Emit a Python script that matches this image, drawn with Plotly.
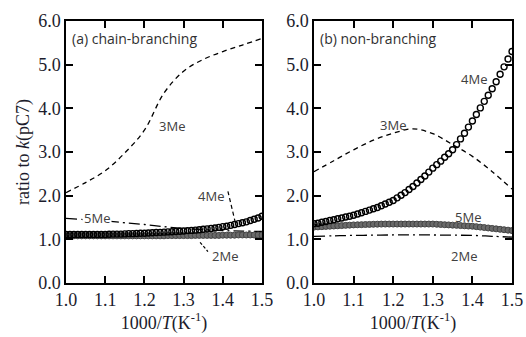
import plotly.graph_objects as go

# ---------------- data ----------------
x_line = [1.00, 1.05, 1.10, 1.15, 1.20, 1.25, 1.30, 1.35, 1.40, 1.45, 1.50]
x_dense = [1.00, 1.01, 1.02, 1.03, 1.04, 1.05, 1.06, 1.07, 1.08, 1.09,
           1.10, 1.11, 1.12, 1.13, 1.14, 1.15, 1.16, 1.17, 1.18, 1.19,
           1.20, 1.21, 1.22, 1.23, 1.24, 1.25, 1.26, 1.27, 1.28, 1.29,
           1.30, 1.31, 1.32, 1.33, 1.34, 1.35, 1.36, 1.37, 1.38, 1.39,
           1.40, 1.41, 1.42, 1.43, 1.44, 1.45, 1.46, 1.47, 1.48, 1.49, 1.50]

# (a) chain-branching
a_3me = [2.07, 2.30, 2.57, 2.98, 3.50, 4.35, 4.85, 5.12, 5.30, 5.45, 5.60]
a_5me = [1.48, 1.45, 1.42, 1.38, 1.34, 1.29, 1.25, 1.22, 1.20, 1.19, 1.18]
a_4me = [1.11, 1.11, 1.11, 1.11, 1.11, 1.11, 1.11, 1.11, 1.11, 1.11,
         1.11, 1.115, 1.12, 1.12, 1.12, 1.125, 1.13, 1.13, 1.135, 1.14,
         1.14, 1.145, 1.15, 1.155, 1.16, 1.165, 1.17, 1.175, 1.18, 1.185,
         1.19, 1.20, 1.205, 1.21, 1.22, 1.23, 1.24, 1.25, 1.26, 1.275,
         1.29, 1.30, 1.32, 1.34, 1.36, 1.38, 1.40, 1.43, 1.46, 1.49, 1.53]
a_2me = [1.08, 1.08, 1.08, 1.08, 1.08, 1.08, 1.08, 1.08, 1.08, 1.08,
         1.08, 1.08, 1.08, 1.08, 1.08, 1.08, 1.08, 1.08, 1.08, 1.08,
         1.08, 1.08, 1.08, 1.08, 1.08, 1.08, 1.085, 1.085, 1.085, 1.085,
         1.085, 1.085, 1.085, 1.09, 1.09, 1.09, 1.09, 1.09, 1.09, 1.09,
         1.095, 1.095, 1.095, 1.095, 1.10, 1.10, 1.10, 1.10, 1.10, 1.10, 1.10]

# (b) non-branching
b_3me = [2.55, 2.80, 3.05, 3.27, 3.43, 3.53, 3.42, 3.17, 2.90, 2.55, 2.15]
b_2me = [1.07, 1.08, 1.09, 1.095, 1.10, 1.10, 1.10, 1.095, 1.09, 1.07, 1.05]
b_4me = [1.36, 1.37, 1.39, 1.41, 1.43, 1.45, 1.47, 1.49, 1.51, 1.53,
         1.55, 1.58, 1.61, 1.64, 1.67, 1.70, 1.73, 1.77, 1.81, 1.85,
         1.89, 1.95, 2.01, 2.07, 2.14, 2.21, 2.29, 2.37, 2.45, 2.54,
         2.63, 2.71, 2.79, 2.88, 2.96, 3.05, 3.17, 3.30, 3.43, 3.57,
         3.71, 3.86, 4.01, 4.16, 4.30, 4.45, 4.61, 4.78, 4.95, 5.13, 5.30]
b_5me = [1.28, 1.285, 1.29, 1.295, 1.30, 1.305, 1.31, 1.315, 1.32, 1.325,
         1.33, 1.333, 1.336, 1.339, 1.342, 1.345, 1.347, 1.349, 1.35, 1.35,
         1.35, 1.35, 1.35, 1.35, 1.35, 1.35, 1.35, 1.35, 1.35, 1.35,
         1.35, 1.345, 1.34, 1.335, 1.33, 1.325, 1.32, 1.315, 1.31, 1.305,
         1.30, 1.29, 1.28, 1.27, 1.26, 1.25, 1.24, 1.23, 1.22, 1.21, 1.20]

x_ticks = [1.0, 1.1, 1.2, 1.3, 1.4, 1.5]
y_ticks = [0.0, 1.0, 2.0, 3.0, 4.0, 5.0, 6.0]

# ---------------- figure ----------------
fig = go.Figure()

GRAY_FILL = "#6a6a6a"
GRAY_EDGE = "#444444"
DASH = "5px,4px"
DASHDOT = "11px,4px,2px,4px"

def add_panel(xa, ya, l3, ldd, grays, circles):
    fig.add_trace(go.Scatter(x=x_line, y=l3, mode="lines", line=dict(color="black", width=1.3, dash=DASH, shape="spline"),
                             xaxis=xa, yaxis=ya, showlegend=False, hoverinfo="skip", cliponaxis=True))
    fig.add_trace(go.Scatter(x=x_line, y=ldd, mode="lines", line=dict(color="black", width=1.3, dash=DASHDOT, shape="spline"),
                             xaxis=xa, yaxis=ya, showlegend=False, hoverinfo="skip", cliponaxis=True))
    fig.add_trace(go.Scatter(x=x_dense, y=grays, mode="markers",
                             marker=dict(symbol="circle", size=6, color=GRAY_FILL, line=dict(color=GRAY_EDGE, width=1)),
                             xaxis=xa, yaxis=ya, showlegend=False, hoverinfo="skip", cliponaxis=True))
    fig.add_trace(go.Scatter(x=x_dense, y=circles, mode="markers",
                             marker=dict(symbol="circle-open", size=6, color="black", line=dict(width=1.4)),
                             xaxis=xa, yaxis=ya, showlegend=False, hoverinfo="skip", cliponaxis=True))

add_panel("x", "y", a_3me, a_5me, a_2me, a_4me)
add_panel("x2", "y2", b_3me, b_2me, b_5me, b_4me)

tick_font = dict(family="Liberation Serif, Times New Roman, serif", size=18, color="#1c1c2c")
xtitle = "1000/<i>T</i>(K<sup>-1</sup>)"

axis_common = dict(showline=True, linecolor="black", linewidth=1.5, mirror="ticks",
                   ticks="inside", ticklen=7, tickwidth=2, tickcolor="black",
                   showgrid=False, zeroline=False, tickfont=tick_font, automargin=False)

fig.update_layout(
    width=526, height=337,
    margin=dict(l=66, r=14, t=21, b=54, autoexpand=False),
    paper_bgcolor="white", plot_bgcolor="white",
    xaxis=dict(domain=[0, 0.4395], range=[1.0, 1.5], tickvals=x_ticks, ticktext=[f"{v:.1f}" for v in x_ticks],
               title=dict(text=xtitle, font=tick_font, standoff=4), anchor="y", **axis_common),
    yaxis=dict(domain=[0, 1], range=[0, 6], tickvals=y_ticks, ticktext=[f"{v:.1f}" for v in y_ticks],
               title=dict(text="ratio to <i>k</i>(pC7)", font=tick_font, standoff=4), anchor="x", **axis_common),
    xaxis2=dict(domain=[0.556, 1], range=[1.0, 1.5], tickvals=x_ticks, ticktext=[f"{v:.1f}" for v in x_ticks],
                title=dict(text=xtitle, font=tick_font, standoff=4), anchor="y2", **axis_common),
    yaxis2=dict(domain=[0, 1], range=[0, 6], tickvals=y_ticks, ticktext=[f"{v:.1f}" for v in y_ticks],
                anchor="x2", **axis_common),
)

lab_font = dict(family="Open Sans, Liberation Sans, sans-serif", size=13, color="#404040")
panel_font = dict(family="Open Sans, Liberation Sans, sans-serif", size=14, color="#303030")

annots = [
    dict(xref="x domain", yref="y domain", x=0.02, y=0.935, text="(a) chain-branching", font=panel_font, xanchor="left", yanchor="middle"),
    dict(xref="x2 domain", yref="y2 domain", x=0.02, y=0.935, text="(b) non-branching", font=panel_font, xanchor="left", yanchor="middle"),
    dict(xref="x", yref="y", x=1.27, y=3.6, text="3Me", font=lab_font),
    dict(xref="x", yref="y", x=1.37, y=2.0, text="4Me", font=lab_font),
    dict(xref="x", yref="y", x=1.405, y=0.62, text="2Me", font=lab_font),
    dict(xref="x", yref="y", x=1.08, y=1.5, text="5Me", font=lab_font, bgcolor="white"),
    dict(xref="x2", yref="y2", x=1.2, y=3.62, text="3Me", font=lab_font),
    dict(xref="x2", yref="y2", x=1.405, y=4.68, text="4Me", font=lab_font),
    dict(xref="x2", yref="y2", x=1.39, y=1.52, text="5Me", font=lab_font),
    dict(xref="x2", yref="y2", x=1.38, y=0.62, text="2Me", font=lab_font),
]
for a in annots:
    a["showarrow"] = False
    fig.add_annotation(**a)

# leader lines in panel (a)
fig.add_shape(type="line", xref="x", yref="y", x0=1.413, y0=2.1, x1=1.432, y1=1.38,
              line=dict(color="black", width=1.2, dash="4px,3px"))
fig.add_shape(type="line", xref="x", yref="y", x0=1.342, y0=0.93, x1=1.362, y1=0.72,
              line=dict(color="black", width=1.2, dash="3px,2px"))

fig.write_html("out.html", config={"displayModeBar": False},
               post_script="document.body.style.margin='0';document.body.style.overflow='hidden';")
